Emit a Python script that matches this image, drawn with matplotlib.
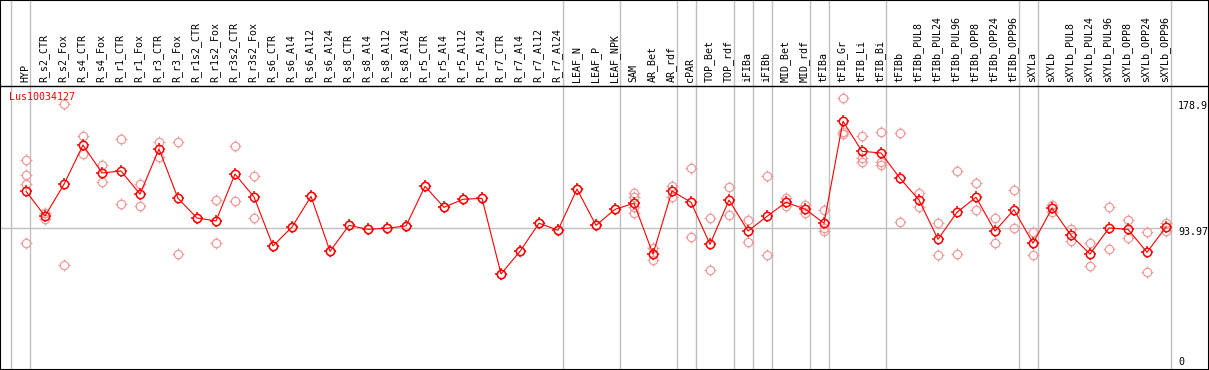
import matplotlib
matplotlib.use("Agg")
import matplotlib.pyplot as plt
from matplotlib.path import Path
import numpy as np

# sample labels (one column each)
labels = ['HYP', 'R_s2_CTR', 'R_s2_Fox', 'R_s4_CTR', 'R_s4_Fox', 'R_r1_CTR', 'R_r1_Fox',
          'R_r3_CTR', 'R_r3_Fox', 'R_r1s2_CTR', 'R_r1s2_Fox', 'R_r3s2_CTR', 'R_r3s2_Fox',
          'R_s6_CTR', 'R_s6_Al4', 'R_s6_Al12', 'R_s6_Al24', 'R_s8_CTR', 'R_s8_Al4',
          'R_s8_Al12', 'R_s8_Al24', 'R_r5_CTR', 'R_r5_Al4', 'R_r5_Al12', 'R_r5_Al24',
          'R_r7_CTR', 'R_r7_Al4', 'R_r7_Al12', 'R_r7_Al24', 'LEAF_N', 'LEAF_P', 'LEAF_NPK',
          'SAM', 'AR_Bet', 'AR_rdf', 'cPAR', 'TOP_Bet', 'TOP_rdf', 'iFIBa', 'iFIBb',
          'MID_Bet', 'MID_rdf', 'tFIBa', 'tFIB_Gr', 'tFIB_Li', 'tFIB_Bi', 'tFIBb',
          'tFIBb_PUL8', 'tFIBb_PUL24', 'tFIBb_PUL96', 'tFIBb_OPP8', 'tFIBb_OPP24', 'tFIBb_OPP96',
          'sXYLa', 'sXYLb', 'sXYLb_PUL8', 'sXYLb_PUL24', 'sXYLb_PUL96', 'sXYLb_OPP8',
          'sXYLb_OPP24', 'sXYLb_OPP96']

# mean expression per sample
means = [118.0, 101.8, 122.6, 148.3, 130.0, 131.3, 116.2, 145.7, 113.4, 100.5, 98.6, 129.3, 114.3,
         82.2, 94.6, 114.7, 78.7, 95.7, 93.1, 93.8, 95.3, 121.3, 107.5, 112.8, 113.4,
         63.9, 78.7, 97.1, 92.5, 119.5, 95.7, 106.2,
         110.2, 76.9, 118.2, 110.8, 83.3, 112.3, 92.0, 101.6, 110.8, 106.4, 97.1,
         163.9, 144.2, 143.1, 126.5, 112.3, 86.6, 104.3, 114.1, 92.0, 106.0,
         84.0, 106.9, 89.2, 76.9, 94.0, 93.1, 78.1, 94.6]

# individual replicates per sample
reps = [[138.5, 128.6, 122.8, 84.0], [103.6, 99.7], [175.2, 69.7], [154.2, 142.4], [135.1, 124.3],
        [152.1, 109.5], [122.6, 108.6], [150.1, 140.7], [150.1, 76.9], [100.5], [112.1, 84.0],
        [147.5, 111.5], [127.8, 100.3],
        [82.2], [94.6], [114.7], [78.7], [95.7], [93.1], [93.8], [95.3], [121.3], [107.5],
        [112.8], [113.4], [63.9], [78.7], [97.1], [92.5], [119.5], [95.7], [106.2],
        [116.7, 114.1, 107.9, 103.6], [80.7, 76.9, 73.0], [121.5, 114.1], [133.1, 88.3],
        [100.5, 66.3], [120.6, 102.7], [99.2, 85.0], [127.8, 76.3], [113.4, 108.6],
        [108.8, 104.0], [105.7, 93.8, 92.2], [178.9, 157.0, 155.5], [154.4, 139.6, 137.4],
        [156.6, 137.4, 135.0], [156.0, 97.7], [116.7, 107.5], [97.1, 76.3], [131.3, 76.9],
        [123.2, 105.6], [100.3, 84.0], [118.7, 93.8], [91.6, 84.3, 76.3], [109.0, 104.6],
        [93.1, 85.3], [84.0, 69.3], [107.5, 80.0], [99.2, 87.2], [91.6, 65.0], [97.1, 92.2]]

# last sample index of each group (separator drawn after it)
group_ends = [-1, 0, 28, 31, 34, 35, 37, 38, 39, 41, 42, 45, 52, 53, 60]

gene = 'Lus10034127'
ref_value = 93.97
max_value = 178.9

W, H = 1209, 370
fig = plt.figure(figsize=(W / 100, H / 100), dpi=100)
ax = fig.add_axes([0, 0, 1, 1])
# pixel layout: column i at x = 26 + 19*i, value v at y(top) = 371.5 - 1.527*v
ax.set_xlim(-26 / 19, (W - 26) / 19)
ax.set_ylim(1.5 / 1.527, 371.5 / 1.527)
ax.set_xticks([])
ax.set_yticks([])
for s in ax.spines.values():
    s.set_linewidth(1.5)
    s.set_color('black')

mono = 'DejaVu Sans Mono'
fs = 7.2

# group separators and reference line
for g in group_ends:
    ax.axvline(g + 1 - 14.5 / 19, color='#c0c0c0', lw=1, zorder=1)
ax.axhline(ref_value, xmin=0, xmax=1170.5 / W, color='#c0c0c0', lw=1, zorder=1)

# header separator
ax.plot([0, 1], [1 - 85.5 / H, 1 - 85.5 / H], transform=ax.transAxes, color='black', lw=1, zorder=3)

# small ticks around each circle marker
ticks = Path([(0, 0.75), (0, 1), (0, -0.75), (0, -1), (0.75, 0), (1, 0), (-0.75, 0), (-1, 0)],
             [Path.MOVETO, Path.LINETO] * 4)
csize = 6.0   # circle diameter in points (~8 px)
tsize = 8.0   # tick span in points


def draw_markers(xs, ys, color, lw, z):
    ax.plot(xs, ys, linestyle='none', marker='o', markersize=csize, markerfacecolor='none',
            markeredgecolor=color, markeredgewidth=lw, zorder=z)
    ax.plot(xs, ys, linestyle='none', marker=ticks, markersize=tsize, markerfacecolor='none',
            markeredgecolor=color, markeredgewidth=lw, zorder=z)


x = np.arange(len(labels))
for i, r in enumerate(reps):
    draw_markers([i] * len(r), r, '#f09a9a', 0.9, 4)
ax.plot(x, means, color='red', lw=0.8, zorder=5)
draw_markers(x, means, 'red', 1.1, 6)

# column labels
for i, lab in enumerate(labels):
    ax.text(i - 0.05, 1 - 82.5 / H, lab, transform=ax.get_xaxis_transform(), rotation=90,
            ha='center', va='bottom', family=mono, fontsize=fs, color='black')

fig.text(9 / W, 1 - 97 / H, gene, ha='left', va='center', family=mono, fontsize=fs, color='red')
fig.text(1178 / W, 1 - 106 / H, f'{max_value}', ha='left', va='center', family=mono, fontsize=fs)
fig.text(1178 / W, 1 - 232 / H, f'{ref_value}', ha='left', va='center', family=mono, fontsize=fs)
fig.text(1178 / W, 1 - 362 / H, '0', ha='left', va='center', family=mono, fontsize=fs)

plt.savefig('out.png', dpi=100)
